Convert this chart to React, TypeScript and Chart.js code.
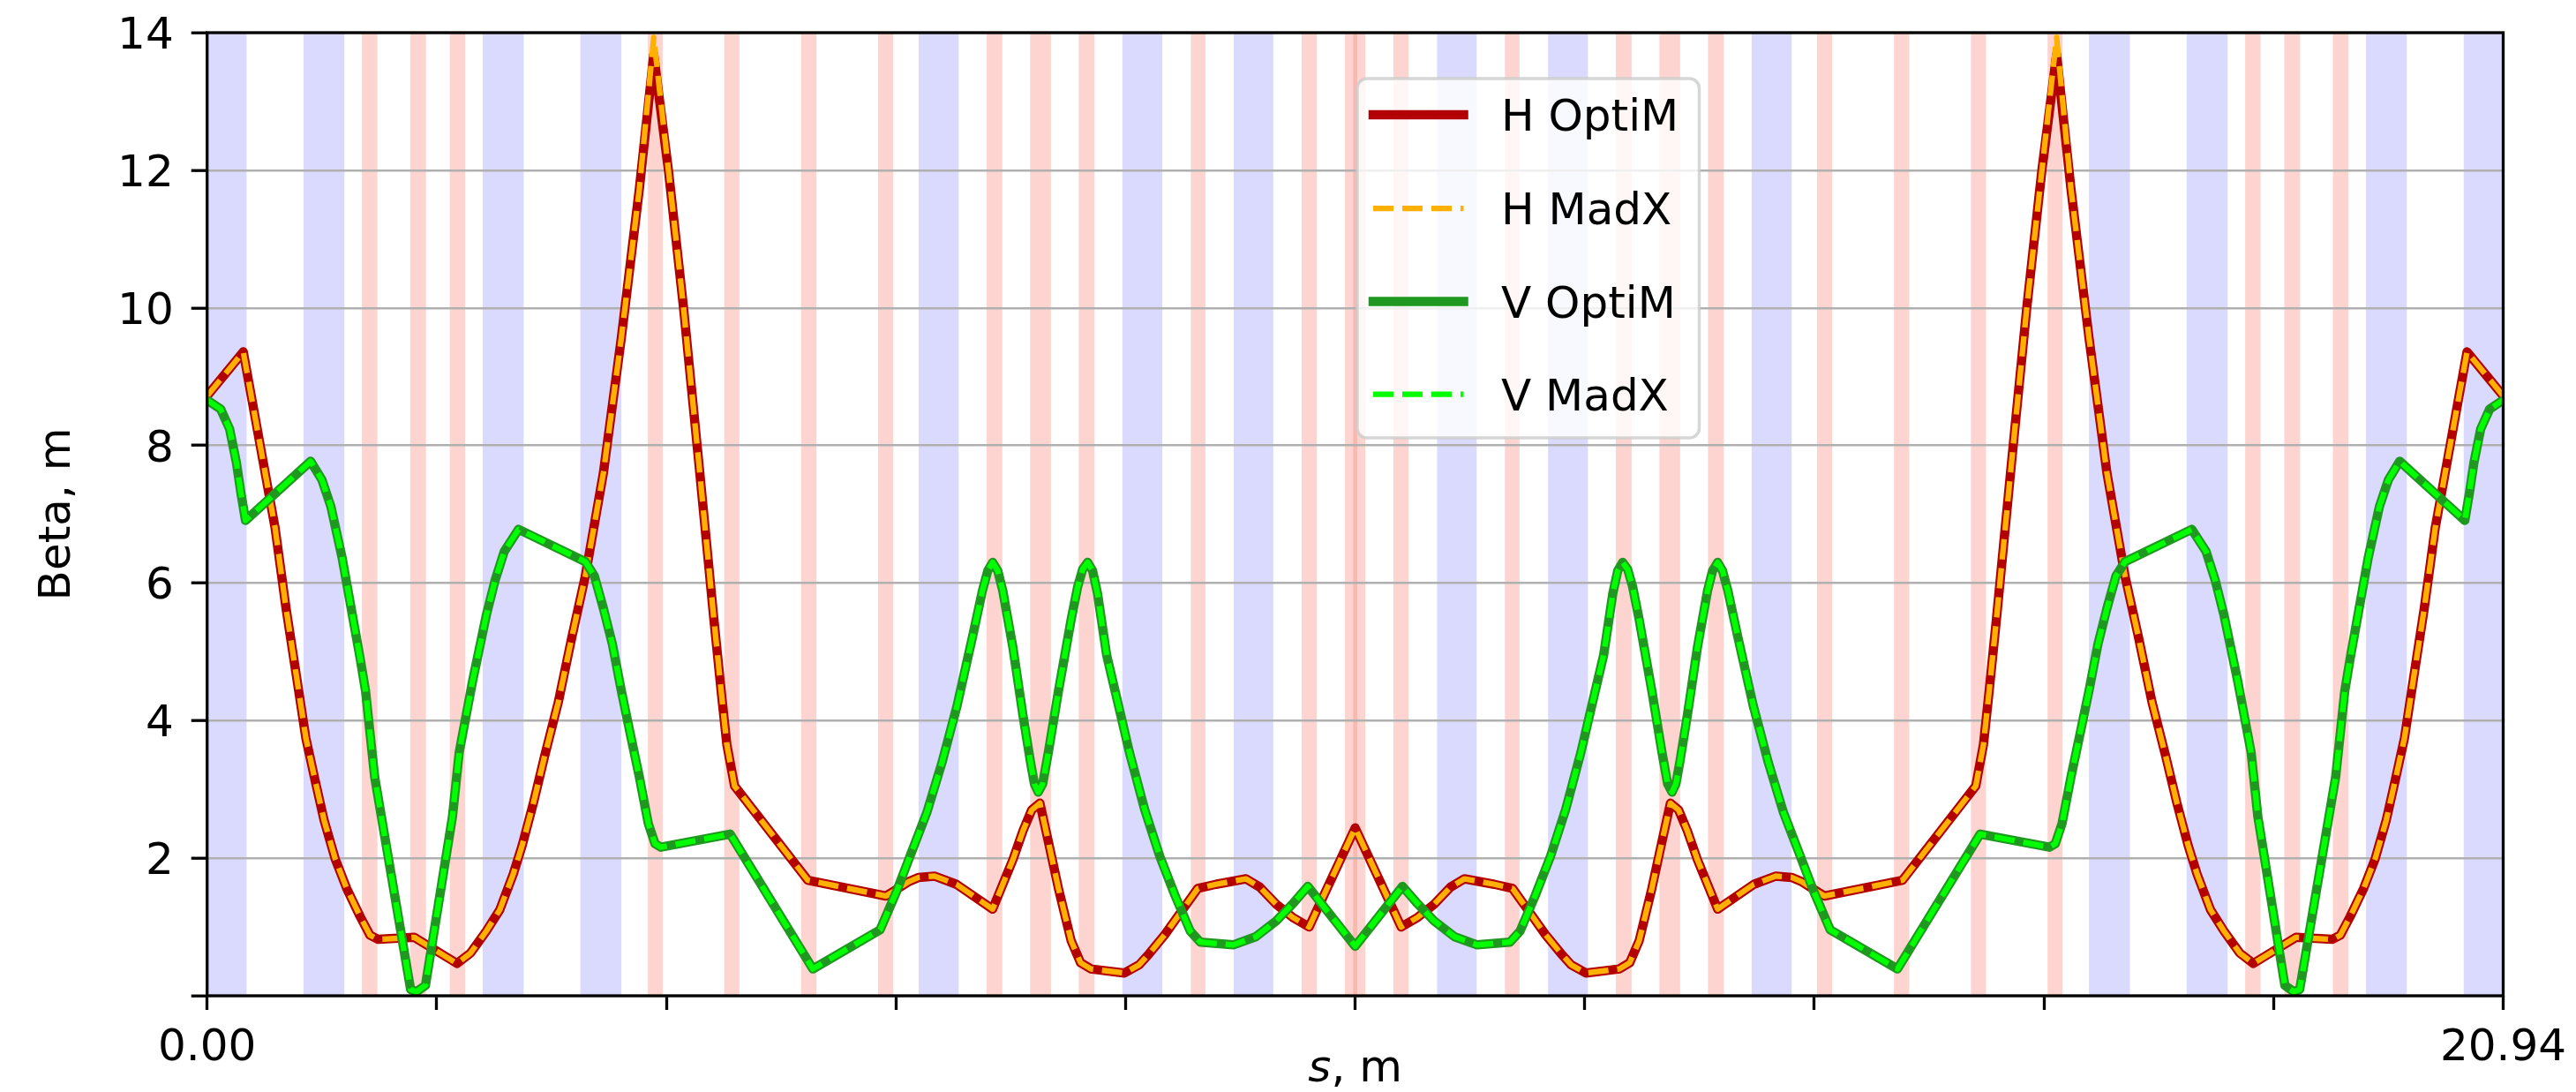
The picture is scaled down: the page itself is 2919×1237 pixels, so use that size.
import React, { useEffect, useRef } from 'react';
import { Chart, registerables } from 'chart.js';

Chart.register(...registerables);

// ---------- data ----------
const sH = [0, 0.33, 0.62, 0.72, 0.82, 0.90, 0.985, 1.067, 1.17, 1.273, 1.396, 1.486, 1.56, 1.889, 2.279, 2.402, 2.546, 2.669, 2.792, 2.874, 2.977, 3.079, 3.203, 3.326, 3.449, 3.614, 3.778, 3.942, 4.073, 4.207, 4.345, 4.484, 4.62, 4.69, 4.74, 4.81, 5.478, 6.19, 6.262, 6.40, 6.49, 6.633, 6.834, 7.164, 7.349, 7.441, 7.52, 7.595, 7.672, 7.764, 7.88, 7.966, 8.06, 8.365, 8.50, 8.596, 8.735, 8.873, 9.035, 9.20, 9.474, 9.60, 9.751, 9.90, 10.05, 10.26, 10.47,
  10.68, 10.89, 11.04, 11.19, 11.34, 11.466, 11.74, 11.905, 12.067, 12.205, 12.344, 12.44, 12.575, 12.88, 12.974, 13.06, 13.176, 13.268, 13.345, 13.42, 13.499, 13.591, 13.776, 14.106, 14.307, 14.45, 14.54, 14.678, 14.75, 15.462, 16.13, 16.20, 16.25, 16.32, 16.456, 16.595, 16.733, 16.867, 16.998, 17.162, 17.326, 17.491, 17.614, 17.737, 17.861, 17.963, 18.066, 18.148, 18.271, 18.394, 18.538, 18.661, 19.051, 19.38, 19.454, 19.544, 19.667, 19.77, 19.873, 19.955, 20.04, 20.12, 20.22, 20.32, 20.61, 20.94];

const betaHOptiM = [8.72, 9.36, 6.80, 5.63, 4.59, 3.75, 3.13, 2.55, 1.98, 1.56, 1.15, 0.88, 0.82, 0.85, 0.47, 0.62, 0.94, 1.25, 1.77, 2.19, 2.81, 3.49, 4.27, 5.21, 6.10, 7.60, 9.57, 11.73, 13.68, 12.00, 10.00, 7.75, 5.50, 4.40, 3.65, 3.05, 1.68, 1.45, 1.52, 1.66, 1.72, 1.74, 1.62, 1.26, 1.98, 2.40, 2.70, 2.80, 2.24, 1.56, 0.80, 0.48, 0.39, 0.33, 0.45, 0.62, 0.89, 1.20, 1.56, 1.62, 1.70, 1.58, 1.33, 1.14, 1.00, 1.72, 2.44,
  1.72, 1.00, 1.14, 1.33, 1.58, 1.70, 1.62, 1.56, 1.20, 0.89, 0.62, 0.45, 0.33, 0.39, 0.48, 0.80, 1.56, 2.24, 2.80, 2.70, 2.40, 1.98, 1.26, 1.62, 1.74, 1.72, 1.66, 1.52, 1.45, 1.68, 3.05, 3.65, 4.40, 5.50, 7.75, 10.00, 12.00, 13.68, 11.73, 9.57, 7.60, 6.10, 5.21, 4.27, 3.49, 2.81, 2.19, 1.77, 1.25, 0.94, 0.62, 0.47, 0.85, 0.82, 0.88, 1.15, 1.56, 1.98, 2.55, 3.13, 3.75, 4.59, 5.63, 6.80, 9.36, 8.72];

const betaHMadX = [8.72, 9.36, 6.80, 5.63, 4.59, 3.75, 3.13, 2.55, 1.98, 1.56, 1.15, 0.88, 0.82, 0.85, 0.47, 0.62, 0.94, 1.25, 1.77, 2.19, 2.81, 3.49, 4.27, 5.21, 6.10, 7.60, 9.57, 11.73, 13.93, 12.00, 10.00, 7.75, 5.50, 4.40, 3.65, 3.05, 1.68, 1.45, 1.52, 1.66, 1.72, 1.74, 1.62, 1.26, 1.98, 2.40, 2.70, 2.80, 2.24, 1.56, 0.80, 0.48, 0.39, 0.33, 0.45, 0.62, 0.89, 1.20, 1.56, 1.62, 1.70, 1.58, 1.33, 1.14, 1.00, 1.72, 2.44,
  1.72, 1.00, 1.14, 1.33, 1.58, 1.70, 1.62, 1.56, 1.20, 0.89, 0.62, 0.45, 0.33, 0.39, 0.48, 0.80, 1.56, 2.24, 2.80, 2.70, 2.40, 1.98, 1.26, 1.62, 1.74, 1.72, 1.66, 1.52, 1.45, 1.68, 3.05, 3.65, 4.40, 5.50, 7.75, 10.00, 12.00, 13.93, 11.73, 9.57, 7.60, 6.10, 5.21, 4.27, 3.49, 2.81, 2.19, 1.77, 1.25, 0.94, 0.62, 0.47, 0.85, 0.82, 0.88, 1.15, 1.56, 1.98, 2.55, 3.13, 3.75, 4.59, 5.63, 6.80, 9.36, 8.72];

const sV = [0, 0.123, 0.205, 0.267, 0.308, 0.35, 0.944, 1.047, 1.129, 1.232, 1.314, 1.396, 1.445, 1.528, 1.856, 1.91, 1.991, 2.238, 2.299, 2.423, 2.546, 2.628, 2.71, 2.84, 3.449, 3.532, 3.614, 3.696, 3.778, 3.86, 3.942, 4.024, 4.085, 4.139, 4.77, 5.524, 6.138, 6.286, 6.425, 6.563, 6.702, 6.84, 6.979, 7.071, 7.12, 7.164, 7.21, 7.256, 7.349, 7.441, 7.51, 7.545, 7.58, 7.62, 7.672, 7.764, 7.88, 7.94, 7.985, 8.03, 8.075, 8.12, 8.204, 8.319, 8.411, 8.55, 8.688, 8.827, 8.966, 9.058, 9.358, 9.566, 9.751, 9.913, 10.038, 10.47,
  10.902, 11.027, 11.189, 11.374, 11.582, 11.882, 11.974, 12.113, 12.252, 12.39, 12.529, 12.621, 12.736, 12.82, 12.865, 12.91, 12.955, 13.00, 13.06, 13.176, 13.268, 13.32, 13.36, 13.395, 13.43, 13.499, 13.591, 13.684, 13.73, 13.776, 13.82, 13.869, 13.961, 14.10, 14.238, 14.377, 14.515, 14.654, 14.802, 15.416, 16.17, 16.801, 16.855, 16.916, 16.998, 17.08, 17.162, 17.244, 17.326, 17.408, 17.491, 18.10, 18.23, 18.312, 18.394, 18.517, 18.641, 18.702, 18.949, 19.03, 19.084, 19.412, 19.495, 19.544, 19.626, 19.708, 19.811, 19.893, 19.996, 20.59, 20.632, 20.673, 20.735, 20.817, 20.94];

const betaVOptiM = [8.66, 8.53, 8.24, 7.75, 7.31, 6.91, 7.77, 7.50, 7.11, 6.36, 5.63, 4.90, 4.43, 3.18, 0.09, 0.06, 0.15, 2.61, 3.54, 4.59, 5.53, 6.05, 6.46, 6.78, 6.31, 6.10, 5.63, 5.11, 4.43, 3.80, 3.18, 2.50, 2.21, 2.16, 2.35, 0.39, 0.96, 1.51, 2.09, 2.66, 3.39, 4.22, 5.21, 5.89, 6.18, 6.30, 6.18, 5.89, 5.06, 4.07, 3.39, 3.08, 2.96, 3.08, 3.54, 4.43, 5.47, 5.95, 6.20, 6.30, 6.18, 5.85, 4.95, 4.17, 3.54, 2.71, 2.03, 1.46, 0.94, 0.78, 0.74, 0.86, 1.09, 1.36, 1.59, 0.72,
  1.59, 1.36, 1.09, 0.86, 0.74, 0.78, 0.94, 1.46, 2.03, 2.71, 3.54, 4.17, 4.95, 5.85, 6.18, 6.30, 6.20, 5.95, 5.47, 4.43, 3.54, 3.08, 2.96, 3.08, 3.39, 4.07, 5.06, 5.89, 6.18, 6.30, 6.18, 5.89, 5.21, 4.22, 3.39, 2.66, 2.09, 1.51, 0.96, 0.39, 2.35, 2.16, 2.21, 2.50, 3.18, 3.80, 4.43, 5.11, 5.63, 6.10, 6.31, 6.78, 6.46, 6.05, 5.53, 4.59, 3.54, 2.61, 0.15, 0.06, 0.09, 3.18, 4.43, 4.90, 5.63, 6.36, 7.11, 7.50, 7.77, 6.91, 7.31, 7.75, 8.24, 8.53, 8.66];

const betaVMadX = [8.66, 8.53, 8.24, 7.75, 7.31, 6.91, 7.77, 7.50, 7.11, 6.36, 5.63, 4.90, 4.43, 3.18, 0.09, 0.06, 0.15, 2.61, 3.54, 4.59, 5.53, 6.05, 6.46, 6.78, 6.31, 6.10, 5.63, 5.11, 4.43, 3.80, 3.18, 2.50, 2.21, 2.16, 2.35, 0.39, 0.96, 1.51, 2.09, 2.66, 3.39, 4.22, 5.21, 5.89, 6.18, 6.30, 6.18, 5.89, 5.06, 4.07, 3.39, 3.08, 2.96, 3.08, 3.54, 4.43, 5.47, 5.95, 6.20, 6.30, 6.18, 5.85, 4.95, 4.17, 3.54, 2.71, 2.03, 1.46, 0.94, 0.78, 0.74, 0.86, 1.09, 1.36, 1.59, 0.72,
  1.59, 1.36, 1.09, 0.86, 0.74, 0.78, 0.94, 1.46, 2.03, 2.71, 3.54, 4.17, 4.95, 5.85, 6.18, 6.30, 6.20, 5.95, 5.47, 4.43, 3.54, 3.08, 2.96, 3.08, 3.39, 4.07, 5.06, 5.89, 6.18, 6.30, 6.18, 5.89, 5.21, 4.22, 3.39, 2.66, 2.09, 1.51, 0.96, 0.39, 2.35, 2.16, 2.21, 2.50, 3.18, 3.80, 4.43, 5.11, 5.63, 6.10, 6.31, 6.78, 6.46, 6.05, 5.53, 4.59, 3.54, 2.61, 0.15, 0.06, 0.09, 3.18, 4.43, 4.90, 5.63, 6.36, 7.11, 7.50, 7.77, 6.91, 7.31, 7.75, 8.24, 8.53, 8.66];

// lattice elements (s start, s end) shown as vertical bands
const blueElements = [[0, 0.36], [0.879, 1.252], [2.513, 2.887], [3.404, 3.778], [6.489, 6.854], [8.347, 8.711], [9.362, 9.723], [11.217, 11.578], [12.229, 12.593], [14.086, 14.451], [17.162, 17.536], [18.053, 18.427], [19.688, 20.061], [20.58, 20.94]];
const pinkElements = [[1.412, 1.553], [1.852, 1.996], [2.213, 2.353], [4.02, 4.155], [4.716, 4.854], [5.417, 5.556], [6.119, 6.258], [7.108, 7.252], [7.506, 7.695], [7.949, 8.093], [8.971, 9.104], [9.982, 10.121], [10.377, 10.489], [10.451, 10.563], [10.819, 10.958], [11.836, 11.969], [12.847, 12.991], [13.245, 13.434], [13.688, 13.832], [14.682, 14.821], [15.384, 15.523], [16.086, 16.224], [16.785, 16.92], [18.587, 18.727], [18.944, 19.088], [19.387, 19.528]];

const xTickValues = [0, 2.094, 4.188, 6.282, 8.376, 10.47, 12.564, 14.658, 16.752, 18.846, 20.94];
const xTickLabels = ['0.00', '', '', '', '', '', '', '', '', '', '20.94'];
const yTickValues = [0, 2, 4, 6, 8, 10, 12, 14];
const yTickLabels = ['', '2', '4', '6', '8', '10', '12', '14'];

const seriesLabels = ['H OptiM', 'H MadX', 'V OptiM', 'V MadX'];

const FONT = '"DejaVu Sans", "Liberation Sans", sans-serif';

const pts = (xs: number[], ys: number[]) => {
  const n = Math.min(xs.length, ys.length);
  const out: { x: number; y: number }[] = [];
  for (let i = 0; i < n; i++) out.push({ x: xs[i], y: ys[i] });
  return out;
};

const decorPlugin = {
  id: 'decor',
  beforeDraw(chart: any) {
    const { ctx, chartArea, scales } = chart;
    const xs = scales.x;
    ctx.save();
    ctx.fillStyle = '#ffffff';
    ctx.fillRect(0, 0, chart.width, chart.height);
    const h = chartArea.bottom - chartArea.top;
    const band = (list: number[][], color: string) => {
      ctx.fillStyle = color;
      for (const [a, b] of list) {
        const x0 = xs.getPixelForValue(a);
        const x1 = xs.getPixelForValue(b);
        ctx.fillRect(x0, chartArea.top, x1 - x0, h);
      }
    };
    band(blueElements, 'rgba(0,0,255,0.145)');
    band(pinkElements, 'rgba(250,128,114,0.34)');
    ctx.restore();
  },
  afterDatasetsDraw(chart: any) {
    const { ctx, chartArea } = chart;
    ctx.save();
    ctx.strokeStyle = '#000';
    ctx.lineWidth = 3.3;
    ctx.lineJoin = 'miter';
    ctx.strokeRect(chartArea.left, chartArea.top, chartArea.right - chartArea.left, chartArea.bottom - chartArea.top);
    ctx.restore();
  },
  afterDraw(chart: any) {
    const { ctx, chartArea } = chart;
    ctx.save();
    // axis titles
    ctx.fillStyle = '#000';
    ctx.font = `50px ${FONT}`;
    ctx.textBaseline = 'alphabetic';
    ctx.save();
    ctx.translate(79, (chartArea.top + chartArea.bottom) / 2);
    ctx.rotate(-Math.PI / 2);
    ctx.textAlign = 'center';
    ctx.fillText('Beta, m', 0, 0);
    ctx.restore();

    const cx = (chartArea.left + chartArea.right) / 2;
    ctx.font = `italic 50px ${FONT}`;
    const wS = ctx.measureText('s').width;
    ctx.font = `50px ${FONT}`;
    const wRest = ctx.measureText(', m').width;
    const x0 = cx - (wS + wRest) / 2;
    ctx.textAlign = 'left';
    ctx.font = `italic 50px ${FONT}`;
    ctx.fillText('s', x0, 1225);
    ctx.font = `50px ${FONT}`;
    ctx.fillText(', m', x0 + wS, 1225);

    // legend
    const bx0 = 1538, by0 = 89, bx1 = 1925.5, by1 = 496;
    ctx.beginPath();
    ctx.roundRect(bx0, by0, bx1 - bx0, by1 - by0, 11);
    ctx.fillStyle = 'rgba(255,255,255,0.8)';
    ctx.fill();
    ctx.lineWidth = 3.5;
    ctx.strokeStyle = 'rgba(204,204,204,0.8)';
    ctx.stroke();

    const rows = [130, 236, 341.5, 446.6];
    chart.data.datasets.forEach((ds: any, i: number) => {
      const y = rows[i];
      ctx.save();
      ctx.beginPath();
      ctx.strokeStyle = ds.borderColor;
      ctx.lineWidth = ds.borderWidth;
      ctx.setLineDash(ds.borderDash || []);
      ctx.lineCap = ds.borderDash && ds.borderDash.length ? 'butt' : 'square';
      ctx.moveTo(1556, y);
      ctx.lineTo(1658.5, y);
      ctx.stroke();
      ctx.restore();
      ctx.fillStyle = '#000';
      ctx.font = `50px ${FONT}`;
      ctx.textAlign = 'left';
      ctx.textBaseline = 'alphabetic';
      ctx.fillText(ds.label, 1701, y + 18.3);
    });
    ctx.restore();
  },
};

export default function App() {
  const ref = useRef<HTMLCanvasElement | null>(null);

  useEffect(() => {
    document.body.style.margin = '0';
    document.body.style.overflow = 'hidden';
    const canvas = ref.current;
    if (!canvas) return;

    const chart = new Chart(canvas, {
      type: 'line',
      data: {
        datasets: [
          {
            label: seriesLabels[0],
            data: pts(sH, betaHOptiM),
            borderColor: '#b30000',
            borderWidth: 10.5,
            order: 4,
          },
          {
            label: seriesLabels[1],
            data: pts(sH, betaHMadX),
            borderColor: '#ffb000',
            borderWidth: 6.25,
            borderDash: [23, 10],
            order: 3,
          },
          {
            label: seriesLabels[2],
            data: pts(sV, betaVOptiM),
            borderColor: '#1e981e',
            borderWidth: 10.5,
            order: 2,
          },
          {
            label: seriesLabels[3],
            data: pts(sV, betaVMadX),
            borderColor: '#00ff00',
            borderWidth: 6.25,
            borderDash: [23, 10],
            order: 1,
          },
        ] as any,
      },
      options: {
        responsive: false,
        maintainAspectRatio: false,
        animation: false,
        devicePixelRatio: 1,
        events: [],
        parsing: false,
        datasets: {
          line: {
            pointRadius: 0,
            tension: 0,
            fill: false,
            borderJoinStyle: 'round',
            borderCapStyle: 'butt',
            clip: 0,
          },
        },
        layout: { padding: { left: 0, right: 82.5, top: 37, bottom: 0 } },
        plugins: { legend: { display: false }, tooltip: { enabled: false }, title: { display: false } },
        scales: {
          x: {
            type: 'linear',
            min: 0,
            max: 20.94,
            afterFit: (s: any) => { s.height = 109; s.paddingLeft = 0; s.paddingRight = 0; },
            afterBuildTicks: (s: any) => { s.ticks = xTickValues.map((v) => ({ value: v })); },
            grid: { display: true, drawOnChartArea: false, drawTicks: true, tickLength: 16, tickColor: '#000', tickWidth: 3.3 },
            border: { display: false },
            ticks: {
              autoSkip: false,
              maxRotation: 0,
              minRotation: 0,
              padding: 14,
              color: '#000',
              font: { family: FONT, size: 50 },
              callback: (_v: any, i: number) => xTickLabels[i],
            },
          },
          y: {
            type: 'linear',
            min: 0,
            max: 14,
            afterFit: (s: any) => { s.width = 234.7; s.paddingTop = 0; s.paddingBottom = 0; },
            afterBuildTicks: (s: any) => { s.ticks = yTickValues.map((v) => ({ value: v })); },
            grid: { display: true, drawOnChartArea: true, color: '#b0b0b0', lineWidth: 2.4, tickLength: 18, tickColor: '#000', tickWidth: 3.3 },
            border: { display: false },
            ticks: {
              padding: 20,
              labelOffset: 5,
              color: '#000',
              font: { family: FONT, size: 50, lineHeight: 0.5 },
              callback: (_v: any, i: number) => yTickLabels[i],
            },
          },
        },
      } as any,
      plugins: [decorPlugin],
    });

    return () => chart.destroy();
  }, []);

  return (
    <div style={{ width: 2919, height: 1237 }}>
      <canvas ref={ref} width={2919} height={1237} style={{ display: 'block' }} />
    </div>
  );
}
